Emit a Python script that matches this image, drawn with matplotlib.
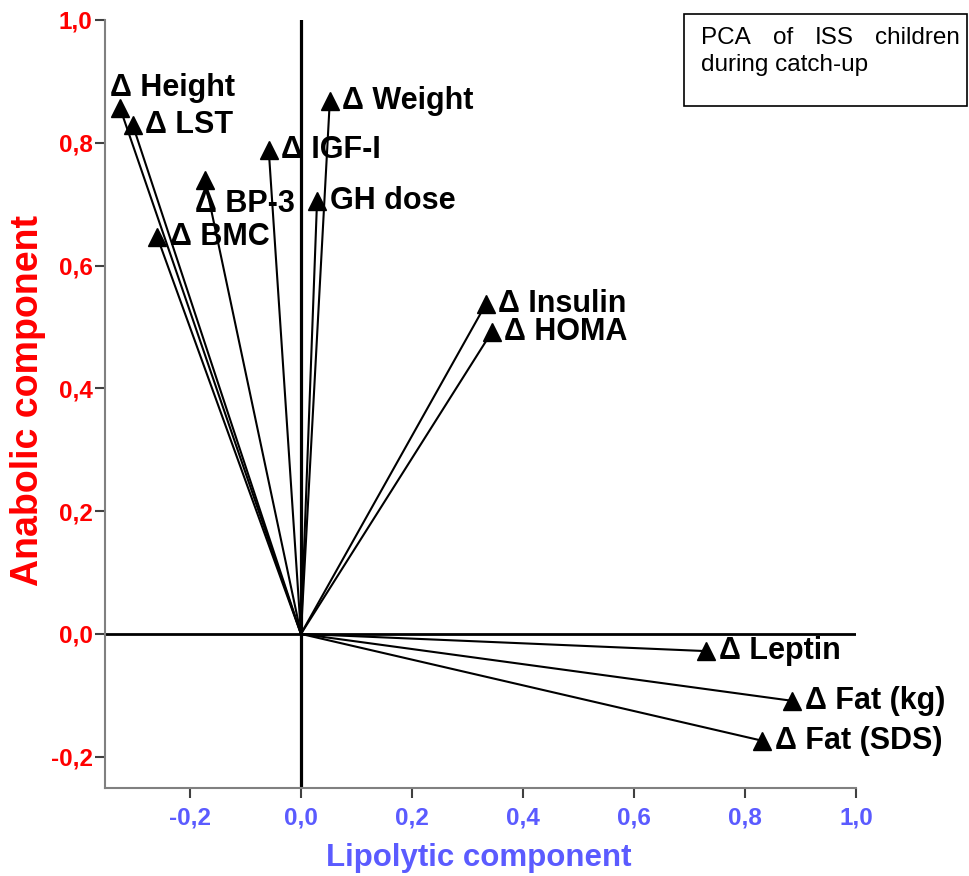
import numpy as np
import matplotlib
matplotlib.use('Agg')
import matplotlib.pyplot as plt
from matplotlib.patches import Rectangle

plt.rcParams['font.family'] = ['Liberation Sans', 'DejaVu Sans']

# loadings on the two components
labels = ['Δ Height', 'Δ LST', 'Δ IGF-I', 'Δ Weight', 'Δ BP-3', 'GH dose',
          'Δ BMC', 'Δ Insulin', 'Δ HOMA', 'Δ Leptin', 'Δ Fat (kg)', 'Δ Fat (SDS)']
lipolytic = [-0.326, -0.303, -0.058, 0.052, -0.173, 0.029,
             -0.259, 0.333, 0.344, 0.730, 0.885, 0.831]
anabolic = [0.857, 0.829, 0.788, 0.868, 0.739, 0.705,
            0.647, 0.537, 0.492, -0.028, -0.109, -0.174]

xticks = [-0.2, 0.0, 0.2, 0.4, 0.6, 0.8, 1.0]
yticks = [-0.2, 0.0, 0.2, 0.4, 0.6, 0.8, 1.0]

# label offsets in points (dx, dy)
offsets = {'Δ Height': (-7, 14), 'Δ BP-3': (-7, -17)}

red = '#ff0000'
blue = '#5b5bff'
W, H = 969, 876

fig = plt.figure(figsize=(W / 100, H / 100), dpi=100)
ax = fig.add_axes([105 / W, 1 - 788 / H, (856 - 105) / W, (788 - 20) / H])
ax.set_xlim(-0.353, 1.0)
ax.set_ylim(-0.251, 1.0)

ax.axhline(0, color='black', lw=2.0, zorder=1)
ax.axvline(0, color='black', lw=2.3, zorder=1)

for lab, x, y in zip(labels, lipolytic, anabolic):
    ax.plot([0, x], [0, y], color='black', lw=1.5, zorder=2)
    ax.plot(x, y, marker='^', color='black', markersize=13, zorder=3)
    dx, dy = offsets.get(lab, (9, 0))
    ax.annotate(lab, (x, y), xytext=(dx, dy), textcoords='offset points',
                ha='left', va='center', fontsize=22, fontweight='bold')

for side in ['top', 'right']:
    ax.spines[side].set_visible(False)
for side in ['left', 'bottom']:
    ax.spines[side].set_color('#808080')
    ax.spines[side].set_linewidth(1.5)

ax.set_xticks(xticks)
ax.set_yticks(yticks)
ax.set_xticklabels([f'{v:.1f}'.replace('.', ',') for v in xticks],
                   color=blue, fontsize=17.5, fontweight='bold')
ax.set_yticklabels([f'{v:.1f}'.replace('.', ',') for v in yticks],
                   color=red, fontsize=17.5, fontweight='bold')
ax.tick_params(axis='both', direction='out', length=7, width=1.5, color='#404040')
ax.tick_params(axis='x', pad=6)
ax.tick_params(axis='y', pad=2)

fig.text(28 / W, 1 - 400 / H, 'Anabolic component', rotation=90, color=red,
         fontsize=27, fontweight='bold', ha='center', va='center')
fig.text(479 / W, 1 - 858 / H, 'Lipolytic component', color=blue,
         fontsize=22.5, fontweight='bold', ha='center', va='center')

# title box, first line justified
fig.patches.append(Rectangle((684 / W, 1 - 106 / H), (967 - 684) / W, (106 - 14) / H,
                             transform=fig.transFigure, fill=False,
                             edgecolor='black', lw=1.2))
for word, xp, ha in [('PCA', 701, 'left'), ('of', 773, 'left'),
                     ('ISS', 815, 'left'), ('children', 960, 'right')]:
    fig.text(xp / W, 1 - 38 / H, word, fontsize=17.5, ha=ha, va='center')
fig.text(701 / W, 1 - 65 / H, 'during catch-up', fontsize=17.5, ha='left', va='center')

fig.savefig('out.png', dpi=100)
